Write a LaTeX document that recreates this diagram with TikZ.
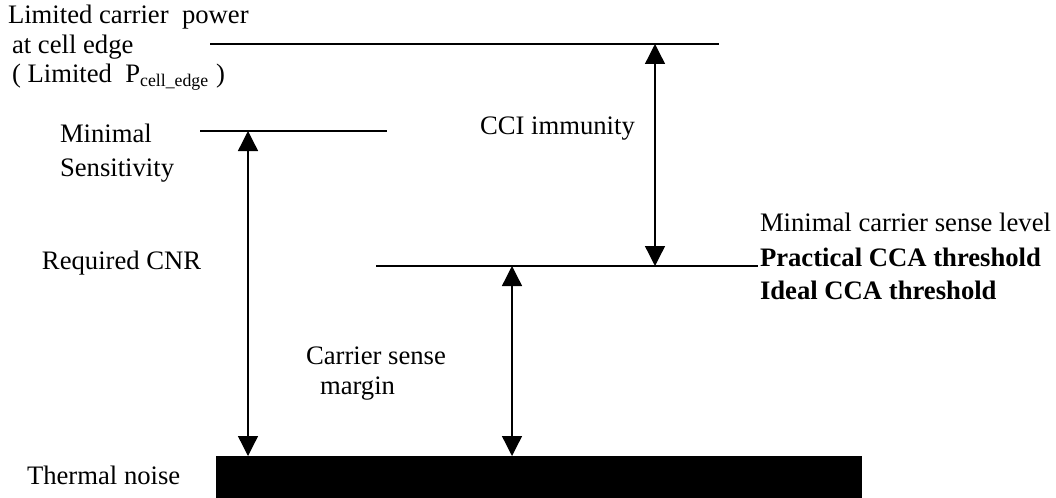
\documentclass[tikz,border=0pt]{standalone}
\usepackage{fontspec}
\setmainfont{Liberation Serif}
\usetikzlibrary{arrows.meta, positioning}

\begin{document}
\begin{tikzpicture}[x=0.45pt, y=-0.45pt, font=\fontsize{12}{14}\selectfont]

    % Define styles
    \tikzstyle{label} = [anchor=mid west, inner sep=0pt, outer sep=0pt]
    \tikzstyle{boldlabel} = [label, font=\fontsize{12}{14}\selectfont\bfseries]
    \tikzstyle{level} = [line width=0.6pt]
    \tikzstyle{gap} = [line width=0.6pt, {Triangle[width=9pt,length=9pt]}-{Triangle[width=9pt,length=9pt]}]

    \useasboundingbox (0,0) rectangle (1056,498);

    % Levels
    \coordinate (edgeL) at (210,44);
    \coordinate (edgeR) at (719,44);
    \coordinate (sensL) at (200,131);
    \coordinate (sensR) at (387,131);
    \coordinate (ccaL) at (376,266);
    \coordinate (ccaR) at (758,266);
    \draw[level] (edgeL) -- (edgeR);
    \draw[level] (sensL) -- (sensR);
    \draw[level] (ccaL) -- (ccaR);

    % Thermal noise floor
    \node[fill=black, inner sep=0pt, minimum width=646*0.45pt, minimum height=42*0.45pt, anchor=north west] (noise) at (216,456) {};

    % Texts
    \node[label] (edge1) at (8,18) {Limited carrier\ \ power};
    \node[label] (edge2) at (12,48) {at cell edge};
    \node[label] (edge3) at (12,77) {( Limited\ \ P\textsubscript{cell\_edge} )};
    \node[label] (sens1) at (60,137) {Minimal};
    \node[label] (sens2) at (60,171) {Sensitivity};
    \node[label] (cci) at (480,129) {CCI immunity};
    \node[label] (cnr) at (42,264) {Required CNR};
    \node[label] (margin1) at (306,359) {Carrier sense};
    \node[label] (margin2) at (320,389) {margin};
    \node[label] (thermal) at (27,479) {Thermal noise};
    \node[label] (sense) at (760,226) {Minimal carrier sense level};
    \node[boldlabel] (practical) at (760,261) {Practical CCA threshold};
    \node[boldlabel] (ideal) at (760,294) {Ideal CCA threshold};

    % Arrows between levels
    \coordinate (cnrTop) at (248,131);
    \coordinate (cnrBot) at (248,456);
    \coordinate (cciTop) at (655,44);
    \coordinate (cciBot) at (655,266);
    \coordinate (marTop) at (512,266);
    \coordinate (marBot) at (512,456);
    \draw[gap] (cnrTop) -- (cnrBot);
    \draw[gap] (cciTop) -- (cciBot);
    \draw[gap] (marTop) -- (marBot);

\end{tikzpicture}
\end{document}
